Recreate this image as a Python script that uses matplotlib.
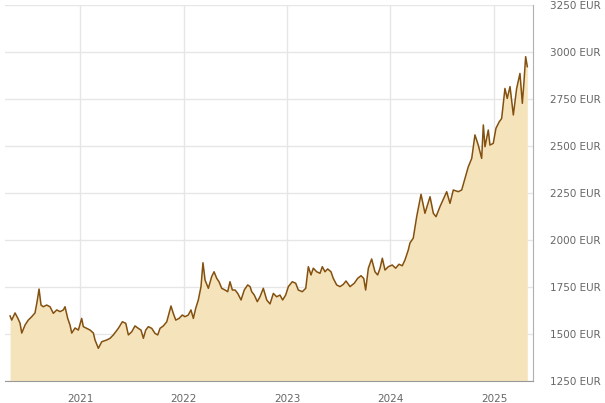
import matplotlib
matplotlib.use("Agg")
import matplotlib.pyplot as plt
import numpy as np

# Gold price in EUR (decimal year, EUR)
years = [
    2020.324, 2020.340, 2020.372, 2020.398, 2020.420, 2020.437, 2020.469, 2020.500,
    2020.533, 2020.565, 2020.585, 2020.604, 2020.623, 2020.645, 2020.678, 2020.710,
    2020.742, 2020.775, 2020.807, 2020.839, 2020.855, 2020.881, 2020.903, 2020.920,
    2020.952, 2020.984, 2021.016, 2021.032, 2021.065, 2021.097, 2021.129, 2021.145,
    2021.177, 2021.210, 2021.258, 2021.290, 2021.322, 2021.370, 2021.409, 2021.442,
    2021.467, 2021.500, 2021.531, 2021.563, 2021.589, 2021.612, 2021.635, 2021.660,
    2021.693, 2021.725, 2021.751, 2021.773, 2021.805, 2021.838, 2021.860, 2021.879,
    2021.901, 2021.925, 2021.957, 2021.988, 2022.014, 2022.046, 2022.072, 2022.095,
    2022.118, 2022.143, 2022.169, 2022.188, 2022.208, 2022.240, 2022.272, 2022.295,
    2022.321, 2022.343, 2022.369, 2022.401, 2022.427, 2022.449, 2022.472, 2022.498,
    2022.524, 2022.556, 2022.587, 2022.620, 2022.643, 2022.659, 2022.684, 2022.713,
    2022.739, 2022.771, 2022.804, 2022.836, 2022.868, 2022.900, 2022.932, 2022.958,
    2022.987, 2023.013, 2023.051, 2023.084, 2023.109, 2023.148, 2023.181, 2023.206,
    2023.232, 2023.254, 2023.287, 2023.319, 2023.341, 2023.367, 2023.393, 2023.425,
    2023.447, 2023.480, 2023.512, 2023.544, 2023.570, 2023.609, 2023.650, 2023.683,
    2023.715, 2023.741, 2023.760, 2023.786, 2023.818, 2023.850, 2023.876, 2023.899,
    2023.921, 2023.947, 2023.979, 2024.017, 2024.050, 2024.082, 2024.114, 2024.140,
    2024.172, 2024.188, 2024.220, 2024.253, 2024.295, 2024.333, 2024.382, 2024.414,
    2024.440, 2024.478, 2024.543, 2024.575, 2024.607, 2024.655, 2024.688, 2024.720,
    2024.752, 2024.785, 2024.816, 2024.848, 2024.881, 2024.897, 2024.913, 2024.945,
    2024.961, 2024.993, 2025.019, 2025.051, 2025.074, 2025.106, 2025.128, 2025.155,
    2025.187, 2025.219, 2025.251, 2025.274, 2025.290, 2025.306, 2025.322,
]
prices = [
    1596, 1574, 1612, 1585, 1558, 1505, 1548, 1574,
    1592, 1612, 1672, 1739, 1654, 1645, 1654, 1645,
    1610, 1628, 1619, 1628, 1645, 1583, 1548, 1505,
    1532, 1521, 1583, 1539, 1530, 1521, 1505, 1468,
    1424, 1459, 1468, 1477, 1495, 1530, 1565, 1557,
    1495, 1512, 1543, 1530, 1521, 1477, 1521, 1539,
    1530, 1503, 1495, 1530, 1543, 1565, 1610, 1649,
    1610, 1574, 1583, 1601, 1592, 1601, 1628, 1583,
    1637, 1681, 1752, 1879, 1787, 1743, 1805, 1831,
    1796, 1778, 1743, 1734, 1725, 1778, 1734, 1734,
    1716, 1681, 1734, 1761, 1752, 1725, 1707, 1672,
    1698, 1743, 1681, 1660, 1716, 1698, 1707, 1681,
    1707, 1752, 1778, 1770, 1734, 1725, 1743, 1858,
    1814, 1850, 1831, 1823, 1858, 1831, 1846, 1831,
    1796, 1761, 1752, 1764, 1782, 1752, 1770, 1796,
    1810, 1796, 1734, 1850, 1899, 1831, 1814, 1850,
    1903, 1840, 1858, 1867, 1850, 1871, 1863, 1894,
    1947, 1984, 2010, 2124, 2243, 2142, 2230, 2142,
    2124, 2177, 2257, 2195, 2266, 2257, 2266, 2328,
    2390, 2434, 2559, 2505, 2434, 2612, 2496, 2585,
    2505, 2514, 2594, 2629, 2646, 2806, 2753, 2816,
    2665, 2806, 2886, 2727, 2843, 2975, 2922,
]

year_ticks = [2021, 2022, 2023, 2024, 2025]
price_ticks = [1250, 1500, 1750, 2000, 2250, 2500, 2750, 3000, 3250]

line_color = "#83500f"
fill_color = "#f5e4bb"
grid_color = "#e6e6e6"
text_color = "#666666"

fig = plt.figure(figsize=(6.05, 4.03), dpi=100)
ax = fig.add_axes([5 / 605, 22 / 403, 528 / 605, 376 / 403])

ax.fill_between(years, prices, 1250, color=fill_color, linewidth=0, zorder=2)
ax.plot(years, prices, color=line_color, linewidth=1.1, zorder=3)

ax.set_xlim(2020.275, 2025.377)
ax.set_ylim(1250, 3250)

ax.set_xticks(year_ticks)
ax.set_xticklabels([str(y) for y in year_ticks])
ax.set_yticks(price_ticks)
ax.set_yticklabels([f"{p} EUR" for p in price_ticks])
ax.yaxis.tick_right()

ax.grid(True, color=grid_color, linewidth=1.0, zorder=0)
ax.set_axisbelow(True)
ax.tick_params(axis="both", length=0, colors=text_color, labelsize=7.5)
ax.tick_params(axis="y", pad=12)
ax.tick_params(axis="x", pad=9)

for side in ["left", "top"]:
    ax.spines[side].set_visible(False)
ax.spines["right"].set_color("#b0b0b0")
ax.spines["bottom"].set_color("#999999")

fig.savefig("out.png", dpi=100)
